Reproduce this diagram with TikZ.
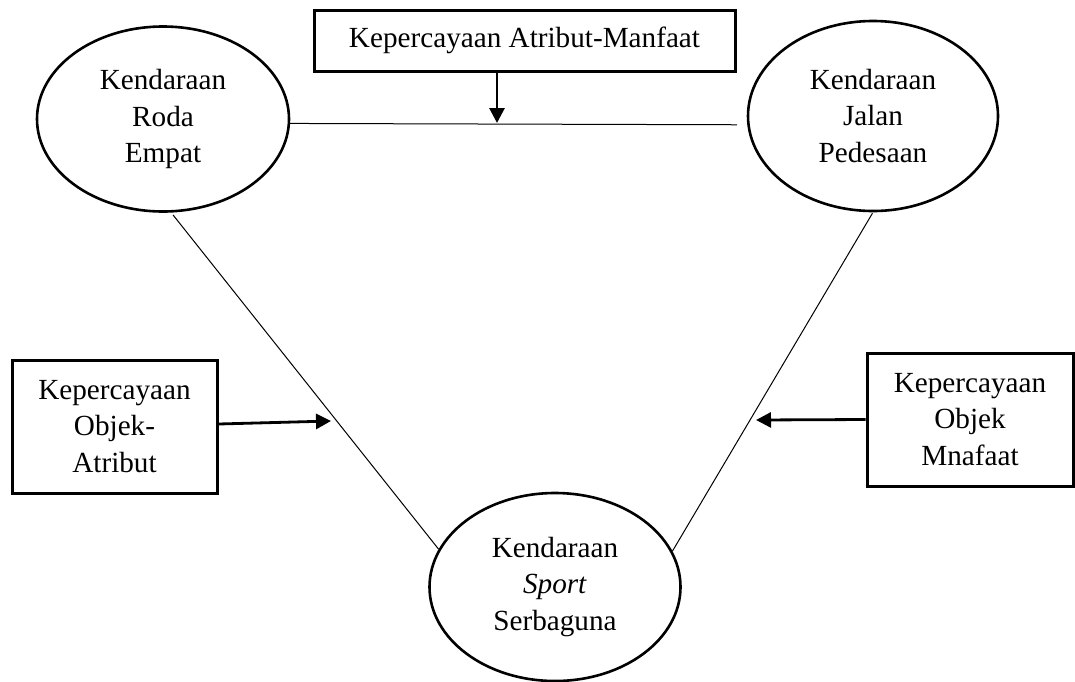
\documentclass[tikz,border=0pt]{standalone}
\usepackage{fontspec}
\setmainfont{Liberation Serif}
\usetikzlibrary{arrows.meta,shapes.geometric,calc}
\tikzset{
  txt/.style={font=\fontsize{29.2}{36.5}\selectfont, align=center, inner sep=0pt},
  oval/.style={txt, ellipse, draw, line width=2.6pt},
  boxn/.style={txt, rectangle, draw, line width=3pt},
  link/.style={line width=1pt},
  arr/.style={line width=2.8pt, -{Triangle[length=15pt,width=15pt]}}
}
\begin{document}
\begin{tikzpicture}[x=1pt,y=-1pt]
\useasboundingbox[fill=white] (0,0) rectangle (1075,681);
\node[oval, minimum width=252pt, minimum height=185pt] (L) at (163,119) {Kendaraan\\Roda\\Empat};
\node[oval, minimum width=250pt, minimum height=190pt] (R) at (873,116) {Kendaraan\\Jalan\\Pedesaan};
\node[oval, minimum width=251pt, minimum height=188pt] (B) at (555,587) {Kendaraan\\\textit{Sport}\\Serbaguna};
\node[boxn, minimum width=421pt, minimum height=61pt] (T) at (524.5,40.5) {Kepercayaan Atribut-Manfaat};
\node[boxn, minimum width=205pt, minimum height=133pt] (LB) at (114.5,426.5) {Kepercayaan\\Objek-\\Atribut};
\node[boxn, minimum width=206pt, minimum height=133pt] (RB) at (970,419.5) {Kepercayaan\\Objek\\Mnafaat};
\coordinate (tm) at (497,123);
\coordinate (la) at (331,421);
\coordinate (ra) at (756,420);
\draw[link, shorten >=10pt] (L.-2) -- (R.184);
\draw[link, shorten <=3pt] (L.-85) -- (B.162);
\draw[link, shorten <=1pt] (R.-90) -- (B.17);
\draw[arr] (T.south -| tm) -- (tm);
\draw[arr] ([yshift=2.5pt]LB.east) -- (la);
\draw[arr] (RB.west) -- (ra);
\end{tikzpicture}
\end{document}
